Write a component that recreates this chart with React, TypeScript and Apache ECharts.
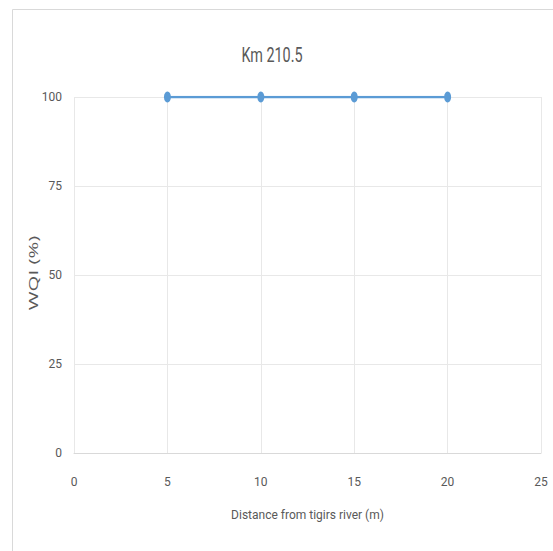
import React, { useEffect, useRef } from "react";
import * as echarts from "echarts";

const title = "Km 210.5";
const xName = "Distance from tigirs river (m)";
const yName = "WQI (%)";
const distances = [5, 10, 15, 20];
const wqi = [100, 100, 100, 100];

export default function App() {
  const ref = useRef<HTMLDivElement>(null);
  useEffect(() => {
    if (!ref.current) return;
    const chart = echarts.init(ref.current, null, { renderer: "svg" });
    const font = "Roboto, 'Liberation Sans', sans-serif";
    chart.setOption({
      animation: false,
      backgroundColor: "#ffffff",
      graphic: [
        {
          type: "rect",
          shape: { x: 12.5, y: 9.5, width: 560, height: 560 },
          style: { fill: "none", stroke: "#d9d9d9", lineWidth: 1 },
          silent: true,
        },
        {
          type: "text",
          x: 272,
          y: 55,
          scaleX: 0.72,
          style: {
            text: title,
            fontFamily: font,
            fontSize: 20,
            fill: "#595959",
            textAlign: "center",
            textVerticalAlign: "middle",
          },
        },
        {
          type: "text",
          x: 33,
          y: 273,
          rotation: Math.PI / 2,
          scaleX: 1.7,
          style: {
            text: yName,
            fontFamily: "'Open Sans', sans-serif",
            fontSize: 12,
            fill: "#595959",
            textAlign: "center",
            textVerticalAlign: "middle",
          },
        },
      ],
      grid: { left: 74, right: 12, top: 97, bottom: 98 },
      xAxis: {
        type: "value",
        min: 0,
        max: 25,
        interval: 5,
        name: xName,
        nameLocation: "middle",
        nameGap: 56,
        nameTextStyle: { fontFamily: font, fontSize: 12, color: "#595959" },
        axisLine: { show: true, lineStyle: { color: "#d9d9d9", width: 1 } },
        axisTick: { show: false },
        axisLabel: { margin: 23, fontFamily: font, fontSize: 12, color: "#595959" },
        splitLine: { show: true, lineStyle: { color: "#e8e8e8", width: 1 } },
      },
      yAxis: {
        type: "value",
        min: 0,
        max: 100,
        interval: 25,
        axisLine: { show: false },
        axisTick: { show: false },
        axisLabel: { margin: 12, fontFamily: font, fontSize: 12, color: "#595959" },
        splitLine: { show: true, lineStyle: { color: "#e8e8e8", width: 1 } },
      },
      series: [
        {
          type: "line",
          data: distances.map((d, i) => [d, wqi[i]]),
          symbol: "circle",
          symbolSize: [7, 11],
          itemStyle: { color: "#5b9bd5" },
          lineStyle: { color: "#5b9bd5", width: 2.5 },
        },
      ],
    });
    return () => chart.dispose();
  }, []);
  return (
    <div
      ref={ref}
      style={{ position: "fixed", left: 0, top: 0, width: 553, height: 551 }}
    />
  );
}
